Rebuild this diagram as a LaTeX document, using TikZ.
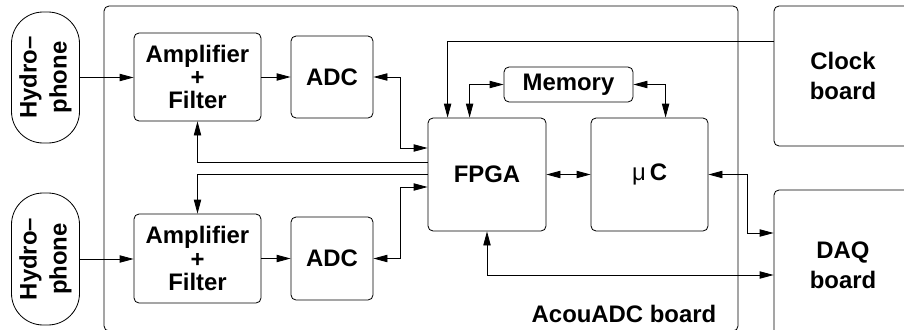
\documentclass[tikz,border=0pt]{standalone}
\usepackage{fontspec}
\setmainfont{Liberation Sans}
\usetikzlibrary{arrows.meta,calc}

\tikzset{
  block/.style={draw,rounded corners=1.5mm,line width=0.7pt,align=center,
    inner sep=0pt,font=\fontsize{20.4}{25.6}\selectfont\bfseries},
  pill/.style={block,rounded corners=9.5mm},
  link/.style={line width=0.7pt},
}

\begin{document}
\begin{tikzpicture}[x=0.3mm,y=-0.3mm,>={Triangle[length=4.2mm,width=2.2mm]}]
\useasboundingbox (0,0) rectangle (904,329);
% the AcouADC board itself
\node[block,minimum width=634*0.3mm,minimum height=325*0.3mm] (board) at (421,168.5) {};
\node[anchor=base east,font=\fontsize{20.4}{25.6}\selectfont\bfseries]
  (boardname) at ($(board.south east)+(-18,-9)$) {AcouADC board};

% sensors
\node[pill,minimum width=68*0.3mm,minimum height=131*0.3mm] (hyd1) at (45.5,77.5) {};
\node[rotate=90,align=center,font=\fontsize{20.4}{25.6}\selectfont\bfseries] at (hyd1) {Hydro--\\phone};
\node[pill,minimum width=68*0.3mm,minimum height=132*0.3mm] (hyd2) at (45.5,259) {};
\node[rotate=90,align=center,font=\fontsize{20.4}{25.6}\selectfont\bfseries] at (hyd2) {Hydro--\\phone};

% analog chain
\node[block,minimum width=127*0.3mm,minimum height=88*0.3mm,
  font=\fontsize{20.4}{20}\selectfont\bfseries] (amp1) at (197.5,77) {Amplifier\\+\\Filter};
\node[block,minimum width=127*0.3mm,minimum height=89*0.3mm,
  font=\fontsize{20.4}{20}\selectfont\bfseries] (amp2) at (197.5,258.5) {Amplifier\\+\\Filter};
\node[block,minimum width=82*0.3mm,minimum height=82*0.3mm] (adc1) at (332,77) {ADC};
\node[block,minimum width=82*0.3mm,minimum height=83*0.3mm] (adc2) at (332,258.5) {ADC};

% digital part
\node[block,minimum width=118*0.3mm,minimum height=113*0.3mm] (fpga) at (487,174.5) {FPGA};
\node[block,minimum width=117*0.3mm,minimum height=113*0.3mm] (uc) at (649.5,174.5) {{\mdseries μ}\,C};
\node[block,minimum width=129*0.3mm,minimum height=35*0.3mm] (mem) at (568.5,84.5) {Memory};

% external boards
\node[block,minimum width=138*0.3mm,minimum height=140*0.3mm] (clock) at (843,76) {Clock\\board};
\node[block,minimum width=138*0.3mm,minimum height=150*0.3mm] (daq) at (843,265) {DAQ\\board};

% signal path
\draw[link,->] (hyd1.east) -- (hyd1.east -| amp1.west);
\draw[link,->] (hyd2.east) -- (hyd2.east -| amp2.west);
\draw[link,->] (amp1.east) -- (adc1.west);
\draw[link,->] (amp2.east) -- (adc2.west);
\draw[link,<->] (adc1.east) -- ++(27,0) |- ($(fpga.west)+(0,-26.5)$);
\draw[link,<->] (adc2.east) -- ++(27,0) |- ($(fpga.west)+(0,12.5)$);
\draw[link,->] ($(fpga.west)+(0,-12)$) -| (amp1.south);
\draw[link,->] (fpga.west) -| (amp2.north);
\draw[link,<->] (fpga.east) -- (uc.west);
\draw[link,<->] ($(fpga.north west)+(42,0)$) |- (mem.west);
\draw[link,<->] (mem.east) -| ($(uc.north west)+(75,0)$);
\draw[link,->] ($(clock.north west)+(0,36)$) -| ($(fpga.north west)+(20,0)$);
\draw[link,<->] (uc.east) -- ++(39,0) |- ($(daq.west)+(0,-32)$);
\draw[link,<->] (fpga.south) |- ($(daq.west)+(0,10)$);
\end{tikzpicture}
\end{document}
